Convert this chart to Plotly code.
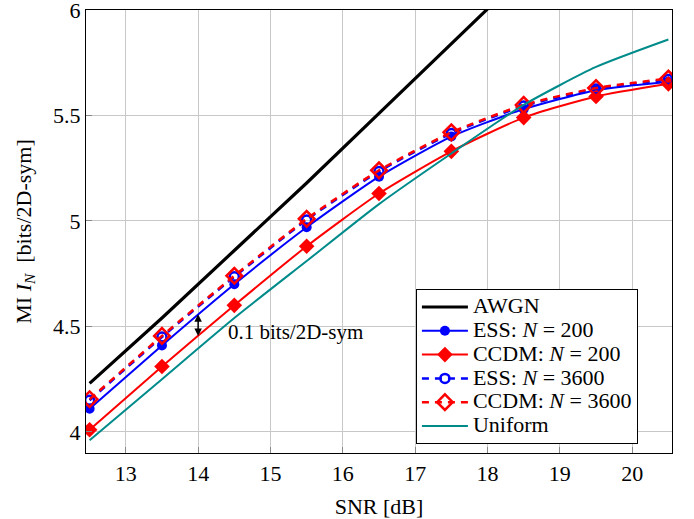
import plotly.graph_objects as go

# SNR grid in dB
snr = [12.5, 13.5, 14.5, 15.5, 16.5, 17.5, 18.5, 19.5, 20.5]

# Mutual information [bits/2D-sym]
awgn = [4.23, 4.54, 4.86, 5.18, 5.51, 5.84, 6.17]
ess_200 = [4.11, 4.41, 4.70, 4.97, 5.21, 5.40, 5.53, 5.62, 5.66]
ccdm_200 = [4.01, 4.31, 4.60, 4.88, 5.13, 5.33, 5.49, 5.59, 5.65]
ess_3600 = [4.15, 4.45, 4.735, 5.005, 5.235, 5.415, 5.545, 5.625, 5.67]
ccdm_3600 = [4.155, 4.455, 4.74, 5.01, 5.24, 5.42, 5.55, 5.63, 5.675]
uniform = [3.96, 4.25, 4.54, 4.81, 5.08, 5.32, 5.55, 5.73, 5.86]

x_ticks = [13, 14, 15, 16, 17, 18, 19, 20]
y_ticks = [4, 4.5, 5, 5.5, 6]

FONT = "Liberation Serif"
BLUE = "#0000ff"
RED = "#ff0000"
TEAL = "#008b8b"


def legend_label(text):
    # Larger glyphs inside a compact legend row
    return '<span style="font-size:22px">' + text + "</span>"


fig = go.Figure()

fig.add_trace(go.Scatter(
    x=snr[:len(awgn)], y=awgn, mode="lines", name=legend_label("AWGN"),
    line=dict(color="black", width=3.2),
))
fig.add_trace(go.Scatter(
    x=snr, y=ess_200, mode="lines+markers",
    name=legend_label("ESS: <i>N</i>&nbsp;=&nbsp;200"),
    line=dict(color=BLUE, width=2, shape="spline", smoothing=0.6),
    marker=dict(symbol="circle", size=10, color=BLUE),
))
fig.add_trace(go.Scatter(
    x=snr, y=ccdm_200, mode="lines+markers",
    name=legend_label("CCDM: <i>N</i>&nbsp;=&nbsp;200"),
    line=dict(color=RED, width=2, shape="spline", smoothing=0.6),
    marker=dict(symbol="diamond", size=12, color=RED),
))
fig.add_trace(go.Scatter(
    x=snr, y=ess_3600, mode="lines+markers",
    name=legend_label("ESS: <i>N</i>&nbsp;=&nbsp;3600"),
    line=dict(color=BLUE, width=2.5, dash="7px,6px", shape="spline", smoothing=0.6),
    marker=dict(symbol="circle-open", size=9, color=BLUE, line=dict(width=2.5)),
))
fig.add_trace(go.Scatter(
    x=snr, y=ccdm_3600, mode="lines+markers",
    name=legend_label("CCDM: <i>N</i>&nbsp;=&nbsp;3600"),
    line=dict(color=RED, width=2.5, dash="7px,6px", shape="spline", smoothing=0.6),
    marker=dict(symbol="diamond-open", size=12, color=RED, line=dict(width=2.5)),
))
fig.add_trace(go.Scatter(
    x=snr, y=uniform, mode="lines", name=legend_label("Uniform"),
    line=dict(color=TEAL, width=2, shape="spline", smoothing=0.6),
))

# Double-headed arrow marking the shaping gap
fig.add_annotation(
    x=14, y=4.455, ax=14, ay=4.565, xref="x", yref="y", axref="x", ayref="y",
    text="", showarrow=True, arrowhead=2, arrowside="end+start",
    arrowsize=1, arrowwidth=1.5, arrowcolor="black",
)
fig.add_annotation(
    x=14.38, y=4.475, xref="x", yref="y", text="0.1 bits/2D-sym",
    showarrow=False, xanchor="left", yanchor="middle",
    font=dict(family=FONT, size=21, color="black"),
)

axis_common = dict(
    showline=True, linecolor="black", linewidth=1.3, mirror=True,
    showgrid=True, gridcolor="#c8c8c8", gridwidth=1,
    ticks="inside", ticklen=6, tickcolor="#888888",
    zeroline=False, ticklabeloverflow="allow", automargin=False,
    tickfont=dict(family=FONT, size=22, color="black"),
)

fig.update_xaxes(
    range=[12.45, 20.55], tickvals=x_ticks,
    title=dict(text="SNR [dB]", font=dict(family=FONT, size=22, color="black")),
    **axis_common,
)
fig.update_yaxes(
    range=[3.9, 6.0], tickvals=y_ticks,
    ticktext=["4", "4.5", "5", "5.5", "6"],
    title=dict(text="MI <i>I<sub>N</sub></i>  [bits/2D-sym]",
               font=dict(family=FONT, size=22, color="black")),
    **axis_common,
)

fig.update_layout(
    width=694, height=519,
    margin=dict(l=86, r=22, t=10, b=66),
    paper_bgcolor="white", plot_bgcolor="white",
    font=dict(family=FONT, size=18, color="black"),
    showlegend=True,
    legend=dict(
        x=0.563, y=0.37, xanchor="left", yanchor="top",
        bgcolor="white", bordercolor="black", borderwidth=1,
        font=dict(family=FONT, size=16, color="black"),
        tracegroupgap=0, itemwidth=46,
    ),
)

fig.write_html("out.html")
